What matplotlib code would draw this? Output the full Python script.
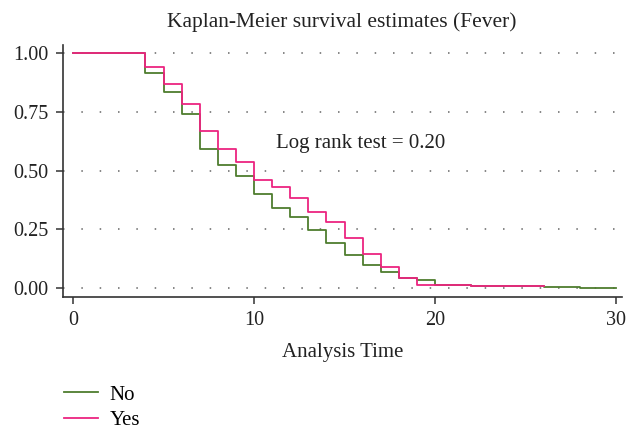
import matplotlib.pyplot as plt
from matplotlib.lines import Line2D

plt.rcParams['font.family'] = ['Liberation Serif', 'DejaVu Serif']

# Kaplan-Meier step data
time_no = [0, 4, 5, 6, 7, 8, 9, 10, 11, 12, 13, 14, 15, 16, 17, 18, 19, 20, 22, 26, 28, 30]
surv_no = [1.00, 0.915, 0.833, 0.740, 0.593, 0.526, 0.477, 0.400, 0.343, 0.303, 0.248, 0.192,
           0.140, 0.098, 0.069, 0.044, 0.033, 0.014, 0.010, 0.007, 0.003, 0.003]

time_yes = [0, 4, 5, 6, 7, 8, 9, 10, 11, 12, 13, 14, 15, 16, 17, 18, 19, 22, 26]
surv_yes = [1.00, 0.942, 0.868, 0.786, 0.671, 0.594, 0.539, 0.461, 0.430, 0.383, 0.326, 0.282,
            0.213, 0.146, 0.089, 0.044, 0.012, 0.010, 0.010]

groups = ['No', 'Yes']
colors = ['#4e7d2e', '#ec2480']
xticks = [0, 10, 20, 30]
yticks = [0.00, 0.25, 0.50, 0.75, 1.00]

fig = plt.figure(figsize=(6.32, 4.32), dpi=100)
ax = fig.add_axes([0.0992, 0.3132, 0.8845, 0.5826])

ax.step(time_no, surv_no, where='post', color=colors[0], lw=1.3)
ax.step(time_yes, surv_yes, where='post', color=colors[1], lw=1.3)

ax.set_xlim(-0.57, 30.31)
ax.set_ylim(-0.036, 1.035)
ax.set_xticks(xticks)
ax.set_yticks(yticks)
ax.set_yticklabels(['%.2f' % v for v in yticks])
for y in yticks:
    ax.axhline(y, color='#666666', lw=1.1, ls=(0, (1, 11)), zorder=0)

for s in ['top', 'right']:
    ax.spines[s].set_visible(False)
for s in ['left', 'bottom']:
    ax.spines[s].set_color('#333333')
    ax.spines[s].set_linewidth(1.2)
ax.tick_params(direction='out', length=5, width=1.1, color='#333333',
               labelsize=14.5, labelcolor='#222222', pad=5)

ax.set_xlabel('Analysis Time', fontsize=15, color='#222222', labelpad=10)
ax.set_title('Kaplan-Meier survival estimates (Fever)', fontsize=15.5, color='#222222', pad=13)
ax.text(11.2, 0.617, 'Log rank test = 0.20', fontsize=15, color='#222222', va='center')

handles = [Line2D([], [], color=c, lw=1.3) for c in colors]
fig.legend(handles, groups, loc='upper left', bbox_to_anchor=(0.088, 0.128),
           frameon=False, fontsize=15, handlelength=1.65, handletextpad=0.55,
           labelspacing=0.3, borderaxespad=0)

fig.savefig('out.png', dpi=100)
